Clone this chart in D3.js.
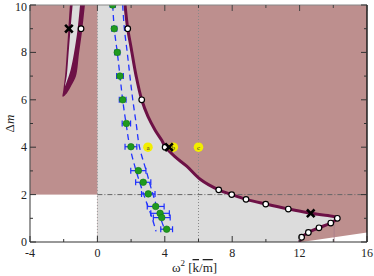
<!DOCTYPE html>
<html>
<head>
<meta charset="utf-8">
<script src="https://cdn.jsdelivr.net/npm/d3@7"></script>
<style>
  body { margin: 0; background: #fff; }
  svg { display: block; }
  text { font-family: "Liberation Serif", "DejaVu Serif", serif; }
</style>
</head>
<body>
<svg id="chart" width="374" height="276"></svg>
<script>
// ---- data ----
var xTicksMajor = [-4, 0, 4, 8, 12, 16];
var xTicksMinor = [-2, 2, 6, 10, 14];
var yTicksMajor = [0, 2, 4, 6, 8, 10];
var yTicksMinor = [1, 3, 5, 7, 9];

// stability boundary (main curve), from top down to the nose and back to the axis
var boundaryW2 = [1.64, 1.8, 2.0, 2.3, 2.63, 3.0, 3.42, 3.81, 4.05, 4.6, 5.3, 6.1, 7.2, 7.97, 8.82, 9.99, 11.33, 12.66, 14.24, 13.85, 13.15, 12.52, 12.12, 12.0];
var boundaryDm = [10, 9, 8.2, 7, 6, 5.3, 4.73, 4.3, 4.0, 3.6, 3.2, 2.65, 2.2, 2.0, 1.8, 1.6, 1.39, 1.21, 1.0, 0.8, 0.6, 0.4, 0.2, 0.0];

// open circles sitting on the boundaries
var circleW2 = [-0.97, 1.8, 2.63, 4.02, 7.2, 7.97, 8.82, 9.99, 11.33, 14.24, 13.85, 13.15, 12.52, 12.12];
var circleDm = [9, 9, 6, 4, 2.2, 2.0, 1.8, 1.6, 1.39, 1.0, 0.8, 0.6, 0.4, 0.2];

// crosses
var crossW2 = [-1.69, 4.25, 12.66];
var crossDm = [9, 4, 1.21];

// left tongue (outer dark band and inner light part)
var tongueOuterW2 = [-1.63, -1.72, -1.82, -1.92, -2.02, -2.06, -1.82, -1.53, -1.27, -1.09, -0.89, -0.74];
var tongueOuterDm = [10, 9, 7.96, 7, 6.41, 6.13, 6.27, 6.62, 7, 7.96, 9, 10];
var tongueInnerW2 = [-1.47, -1.59, -1.71, -1.82, -1.92, -1.82, -1.59, -1.39, -1.17, -1.03];
var tongueInnerDm = [10, 9, 7.96, 7, 6.58, 6.76, 7.26, 7.96, 9, 10];

// measured points with horizontal error bars
var measW2 = [0.91, 1.0, 1.18, 1.34, 1.5, 1.72, 1.99, 2.43, 2.72, 3.02, 3.46, 3.72, 3.82, 4.11];
var measDm = [10, 9, 8, 7, 6, 5, 4.02, 3.01, 2.52, 2.03, 1.5, 1.21, 1.03, 0.54];
var measErr = [0.15, 0.15, 0.15, 0.2, 0.2, 0.25, 0.35, 0.45, 0.45, 0.4, 0.5, 0.55, 0.5, 0.35];

// dashed band
var bandLeftW2 = [0.91, 1.0, 1.18, 1.34, 1.5, 1.7, 1.93, 2.3, 2.75, 3.25, 3.48];
var bandLeftDm = [10, 9, 8, 7, 6, 5, 4, 3, 2, 1, 0.45];
var bandRightW2 = [1.5, 1.6, 1.77, 1.93, 2.1, 2.3, 2.5, 2.9, 3.3, 3.75, 4.01];
var bandRightDm = [10, 9, 8, 7, 6, 5, 4, 3, 2, 1, 0.5];

// labelled yellow markers
var markLabels = ["a", "b", "c"];
var markW2 = [3.0, 4.5, 6.0];
var markDm = [4, 4, 4];

// white wedge at lower right
var wedgeW2 = [12.12, 16, 16];
var wedgeDm = [0, 0, 0.4];

function pts(xs, ys) {
	return xs.map(function(v, i) { return [v, ys[i]]; });
}

var svg = d3.select("#chart");
var margin = {left: 30, right: 7, top: 5, bottom: 34};
var W = 374, H = 276;

var x = d3.scaleLinear().domain([-4, 16]).range([margin.left, W - margin.right]);
var y = d3.scaleLinear().domain([0, 10]).range([H - margin.bottom, margin.top]);

var line = d3.line()
	.x(function(d) { return x(d[0]); })
	.y(function(d) { return y(d[1]); });
var smooth = d3.line()
	.x(function(d) { return x(d[0]); })
	.y(function(d) { return y(d[1]); })
	.curve(d3.curveCatmullRom.alpha(0.5));

svg.append("clipPath").attr("id", "plotclip")
	.append("rect")
		.attr("x", x(-4)).attr("y", y(10))
		.attr("width", x(16) - x(-4)).attr("height", y(0) - y(10));

var plot = svg.append("g").attr("clip-path", "url(#plotclip)");

// background regions
plot.append("rect")
	.attr("x", x(-4)).attr("y", y(10))
	.attr("width", x(16) - x(-4)).attr("height", y(0) - y(10))
	.attr("fill", "#bd8f8e");
plot.append("rect")
	.attr("x", x(-4)).attr("y", y(2))
	.attr("width", x(0) - x(-4)).attr("height", y(0) - y(2))
	.attr("fill", "#fff");

var boundary = pts(boundaryW2, boundaryDm);
plot.append("path")
	.attr("d", smooth(boundary) + "L" + x(0) + "," + y(0) + "L" + x(0) + "," + y(10) + "Z")
	.attr("fill", "#dcdcdc");

plot.append("path")
	.attr("d", line(pts(wedgeW2, wedgeDm)) + "Z")
	.attr("fill", "#fff");

// tongue
plot.append("path")
	.attr("d", smooth(pts(tongueOuterW2, tongueOuterDm)) + "Z")
	.attr("fill", "#6d1146");
plot.append("path")
	.attr("d", smooth(pts(tongueInnerW2, tongueInnerDm)) + "Z")
	.attr("fill", "#dcdcdc");

// reference lines
plot.append("line")
	.attr("x1", x(0)).attr("x2", x(0)).attr("y1", y(0)).attr("y2", y(10))
	.attr("stroke", "#999").attr("stroke-width", 1).attr("stroke-dasharray", "1,2");
plot.append("line")
	.attr("x1", x(6)).attr("x2", x(6)).attr("y1", y(0)).attr("y2", y(10))
	.attr("stroke", "#888").attr("stroke-width", 1).attr("stroke-dasharray", "1,2");
plot.append("line")
	.attr("x1", x(0)).attr("x2", x(16)).attr("y1", y(2)).attr("y2", y(2))
	.attr("stroke", "#666").attr("stroke-width", 1).attr("stroke-dasharray", "5,2,1,2");
plot.append("line")
	.attr("x1", x(14.05)).attr("x2", x(14.05)).attr("y1", y(0)).attr("y2", y(1.0))
	.attr("stroke", "#a47c8c").attr("stroke-width", 0.8);

// main boundary curve
plot.append("path")
	.attr("d", smooth(boundary))
	.attr("fill", "none")
	.attr("stroke", "#6d1146")
	.attr("stroke-width", 3);

// dashed band
[pts(bandLeftW2, bandLeftDm), pts(bandRightW2, bandRightDm)].forEach(function(b) {
	plot.append("path")
		.attr("d", smooth(b))
		.attr("fill", "none")
		.attr("stroke", "#2233ff")
		.attr("stroke-width", 1.3)
		.attr("stroke-dasharray", "6,4");
});

// error bars + green points
var meas = plot.append("g").selectAll("g")
	.data(measW2.map(function(v, i) { return {w: v, m: measDm[i], e: measErr[i]}; }))
	.enter().append("g");
meas.append("line")
	.attr("x1", function(d) { return x(d.w - d.e); })
	.attr("x2", function(d) { return x(d.w + d.e); })
	.attr("y1", function(d) { return y(d.m); })
	.attr("y2", function(d) { return y(d.m); })
	.attr("stroke", "#1f2fff").attr("stroke-width", 1.2);
meas.append("path")
	.attr("d", function(d) {
		var a = x(d.w - d.e), b = x(d.w + d.e), c = y(d.m);
		return "M" + a + "," + (c - 3) + "V" + (c + 3) + "M" + b + "," + (c - 3) + "V" + (c + 3);
	})
	.attr("stroke", "#1f2fff").attr("stroke-width", 1.2);
meas.append("circle")
	.attr("cx", function(d) { return x(d.w); })
	.attr("cy", function(d) { return y(d.m); })
	.attr("r", 3.3)
	.attr("fill", "#1f9a1f")
	.attr("stroke", "#117711").attr("stroke-width", 0.6);

// yellow markers
var marks = plot.append("g").selectAll("g")
	.data(markLabels.map(function(l, i) { return {l: l, w: markW2[i], m: markDm[i]}; }))
	.enter().append("g");
marks.append("circle")
	.attr("cx", function(d) { return x(d.w); })
	.attr("cy", function(d) { return y(d.m); })
	.attr("r", 4.8)
	.attr("fill", "#f2ee00");
marks.append("text")
	.attr("x", function(d) { return x(d.w); })
	.attr("y", function(d) { return y(d.m) + 2.3; })
	.attr("text-anchor", "middle")
	.attr("font-size", 7)
	.attr("fill", "#333")
	.text(function(d) { return d.l; });

// open circles
plot.append("g").selectAll("circle")
	.data(pts(circleW2, circleDm))
	.enter().append("circle")
		.attr("cx", function(d) { return x(d[0]); })
		.attr("cy", function(d) { return y(d[1]); })
		.attr("r", 2.8)
		.attr("fill", "#fff")
		.attr("stroke", "#000")
		.attr("stroke-width", 1.2);

// crosses
plot.append("g").selectAll("path")
	.data(pts(crossW2, crossDm))
	.enter().append("path")
		.attr("d", function(d) {
			var cx = x(d[0]), cy = y(d[1]), s = 3.8;
			return "M" + (cx - s) + "," + (cy - s) + "L" + (cx + s) + "," + (cy + s) +
				"M" + (cx - s) + "," + (cy + s) + "L" + (cx + s) + "," + (cy - s);
		})
		.attr("stroke", "#000")
		.attr("stroke-width", 2.6);

// frame
var frame = svg.append("g");
frame.append("line").attr("x1", x(-4)).attr("x2", x(16)).attr("y1", y(10)).attr("y2", y(10))
	.attr("stroke", "#888").attr("stroke-width", 1.2);
frame.append("line").attr("x1", x(16)).attr("x2", x(16)).attr("y1", y(10)).attr("y2", y(0))
	.attr("stroke", "#111").attr("stroke-width", 1.4);
frame.append("line").attr("x1", x(-4)).attr("x2", x(16)).attr("y1", y(0)).attr("y2", y(0))
	.attr("stroke", "#333").attr("stroke-width", 1.2);
frame.append("line").attr("x1", x(-4)).attr("x2", x(-4)).attr("y1", y(10)).attr("y2", y(0))
	.attr("stroke", "#555").attr("stroke-width", 1.2);

// ticks, all inward, on all four sides
function xTicks(vals, len) {
	vals.forEach(function(v) {
		frame.append("line").attr("x1", x(v)).attr("x2", x(v)).attr("y1", y(0)).attr("y2", y(0) - len)
			.attr("stroke", "#333").attr("stroke-width", 1);
		frame.append("line").attr("x1", x(v)).attr("x2", x(v)).attr("y1", y(10)).attr("y2", y(10) + len)
			.attr("stroke", "#444").attr("stroke-width", 1);
	});
}
function yTicks(vals, len) {
	vals.forEach(function(v) {
		frame.append("line").attr("x1", x(-4)).attr("x2", x(-4) + len).attr("y1", y(v)).attr("y2", y(v))
			.attr("stroke", "#333").attr("stroke-width", 1);
		frame.append("line").attr("x1", x(16)).attr("x2", x(16) - len).attr("y1", y(v)).attr("y2", y(v))
			.attr("stroke", "#333").attr("stroke-width", 1);
	});
}
xTicks(xTicksMajor, 6);
xTicks(xTicksMinor, 3);
yTicks(yTicksMajor, 6);
yTicks(yTicksMinor, 3);

// tick labels
svg.append("g").selectAll("text")
	.data(xTicksMajor)
	.enter().append("text")
		.attr("x", function(d) { return x(d); })
		.attr("y", y(0) + 15)
		.attr("text-anchor", "middle")
		.attr("font-size", 12)
		.attr("fill", "#222")
		.text(function(d) { return d; });
svg.append("g").selectAll("text")
	.data(yTicksMajor)
	.enter().append("text")
		.attr("x", x(-4) - 3)
		.attr("y", function(d) { return Math.max(y(d) + 4, 10.5); })
		.attr("text-anchor", "end")
		.attr("font-size", 12)
		.attr("fill", "#222")
		.text(function(d) { return d; });

// axis titles
var yl = svg.append("text")
	.attr("transform", "translate(14," + (y(5)) + ") rotate(-90)")
	.attr("text-anchor", "middle")
	.attr("font-size", 13)
	.attr("fill", "#222");
yl.append("tspan").text("Δ");
yl.append("tspan").attr("font-style", "italic").text("m");

var xl = svg.append("text")
	.attr("x", (x(-4) + x(16)) / 2 - 4)
	.attr("y", 272)
	.attr("text-anchor", "middle")
	.attr("font-size", 13)
	.attr("fill", "#222");
xl.append("tspan").text("ω");
xl.append("tspan").attr("dy", -6).attr("font-size", 9).text("2");
xl.append("tspan").attr("dy", 6).text(" [");
xl.append("tspan").style("text-decoration", "overline").text("k");
xl.append("tspan").text("/");
xl.append("tspan").style("text-decoration", "overline").text("m");
xl.append("tspan").text("]");
</script>
</body>
</html>
